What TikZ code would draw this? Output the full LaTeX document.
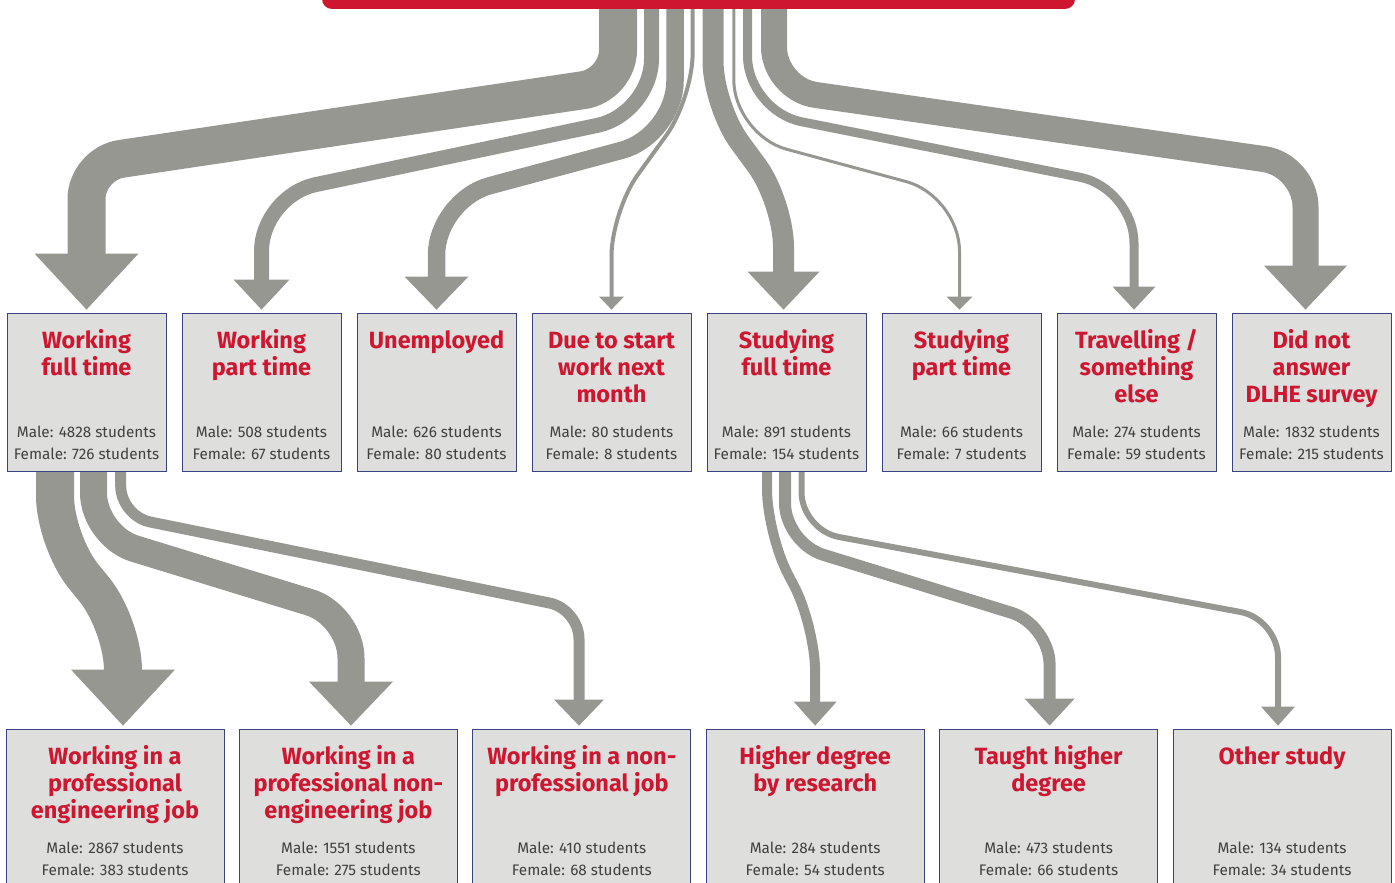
\documentclass[tikz,border=0pt]{standalone}
\usepackage{fontspec}
\setmainfont{Fira Sans}
\usetikzlibrary{calc,backgrounds}

\definecolor{dlred}{RGB}{206,22,48}
\definecolor{flowgray}{RGB}{151,151,146}
\definecolor{boxgray}{RGB}{222,222,220}
\definecolor{boxline}{RGB}{58,66,128}
\definecolor{numtext}{RGB}{64,64,64}

\tikzstyle{box}=[draw=boxline, line width=0.8pt, fill=boxgray, inner sep=0pt]
\tikzstyle{bar}=[fill=dlred, rounded corners=10pt, minimum width=753pt, minimum height=40pt, inner sep=0pt]
\tikzset{band/.style={draw=flowgray, line width=#1}}

% box contents: title on top, counts at the bottom
\newcommand{\boxtext}[4]{\parbox[c][158pt][s]{#1}{\centering
  {\leavevmode\fontsize{23.5}{27}\selectfont\bfseries\color{dlred}\rule{0pt}{35pt}#2\par}
  \vfill
  {\leavevmode\fontsize{15.3}{22}\selectfont\color{numtext}Male: #3 students\\Female: #4 students\rule[-12pt]{0pt}{12pt}\par}\kern0pt}}

% flow: width, radius, start, bend, bend, target, head half width, head length, head x offset
\newcommand{\flow}[9]{%
  \draw[band=#1, rounded corners=#2] #3 -- #4 -- #5 -- ($(#6)+(#9,-#8-1)$);
  \fill[flowgray] ($(#6)+(#9,-3)$) -- ++(-#7,-#8) -- ++(2*#7,0) -- cycle;}

\begin{document}
\begin{tikzpicture}[x=1pt, y=-1pt]
        \useasboundingbox (0,0) rectangle (1395,883);
        \clip (0,0) rectangle (1395,883);

        % Total
        \node at (698.5, -11) [bar] (total) {};

        % First destinations
        \foreach \nm/\txt/\m/\f [count=\i from 0] in {wft/{Working\\full time}/4828/726,
            wpt/{Working\\part time}/508/67, unemp/{Unemployed}/626/80,
            due/{Due to start\\work next\\month}/80/8, sft/{Studying\\full time}/891/154,
            spt/{Studying\\part time}/66/7, trav/{Travelling /\\something\\else}/274/59,
            dna/{Did not\\answer\\DLHE survey}/1832/215}
          \node at (86.5+175*\i, 392) [box] (\nm) {\boxtext{159pt}{\txt}{\m}{\f}};

        % Working and studying in detail
        \foreach \nm/\txt/\m/\f [count=\i from 0] in {proeng/{Working in a\\professional\\engineering job}/2867/383,
            pronon/{Working in a\\professional non-\\engineering job}/1551/275,
            nonpro/{Working in a non-\\professional job}/410/68,
            hdr/{Higher degree\\by research}/284/54, thd/{Taught higher\\degree}/473/66,
            oth/{Other study}/134/34}
          \node at (115+233.4*\i, 808) [box] (\nm) {\boxtext{218pt}{\txt}{\m}{\f}};

        \begin{scope}[on background layer]
        % Total -> first destinations
        \flow{38pt}{35pt}{($(total.south)+(-80.5,-2)$)}{(618,85)}{(86.5,164)}{wft.north}{52}{56}{0}
        \flow{15pt}{55pt}{($(total.south)+(-47,-2)$)}{(651.5,114)}{(261.5,196)}{wpt.north}{28}{30}{0}
        \flow{17.5pt}{55pt}{($(total.south)+(-23.5,-2)$)}{(675,136)}{(436.5,200)}{unemp.north}{32}{33}{0}
        \flow{4pt}{45pt}{($(total.south)+(-5.9,-2)$)}{(692.6,99)}{(611.5,211)}{due.north}{12.5}{13}{0}
        \flow{21pt}{45pt}{($(total.south)+(14.5,-2)$)}{(713,106)}{(783.5,202)}{sft.north}{36}{38}{-3}
        \flow{3pt}{55pt}{($(total.south)+(35.3,-2)$)}{(733.8,135)}{(959.5,196)}{spt.north}{13}{13}{-2}
        \flow{9pt}{55pt}{($(total.south)+(49,-2)$)}{(747.5,111)}{(1134,188)}{trav.north}{21.5}{23}{-2.5}
        \flow{26pt}{42pt}{($(total.south)+(75.5,-2)$)}{(774,89)}{(1305.5,165)}{dna.north}{41.5}{44}{-6}

        % Working full time -> jobs
        \flow{38pt}{45pt}{(wft.south -| 55,0)}{(55,541)}{(123,625)}{proeng.north}{52}{56}{8}
        \flow{27pt}{43pt}{(wft.south -| 93.5,0)}{(93.5,536)}{(351,615)}{pronon.north}{42}{44}{2.6}
        \flow{11pt}{30pt}{(wft.south -| 120.7,0)}{(120.7,516)}{(579,609)}{nonpro.north}{25}{26}{-2.8}

        % Studying full time -> courses
        \flow{10pt}{45pt}{(sft.south -| 767,0)}{(767,534)}{(815,626)}{hdr.north}{21.5}{24}{0}
        \flow{12pt}{40pt}{(sft.south -| 785,0)}{(785,543)}{(1049.6,624.5)}{thd.north}{25}{27}{1}
        \flow{6pt}{38pt}{(sft.south -| 801.5,0)}{(801.5,530)}{(1278,619)}{oth.north}{17}{19}{-4}
        \end{scope}
\end{tikzpicture}
\end{document}
